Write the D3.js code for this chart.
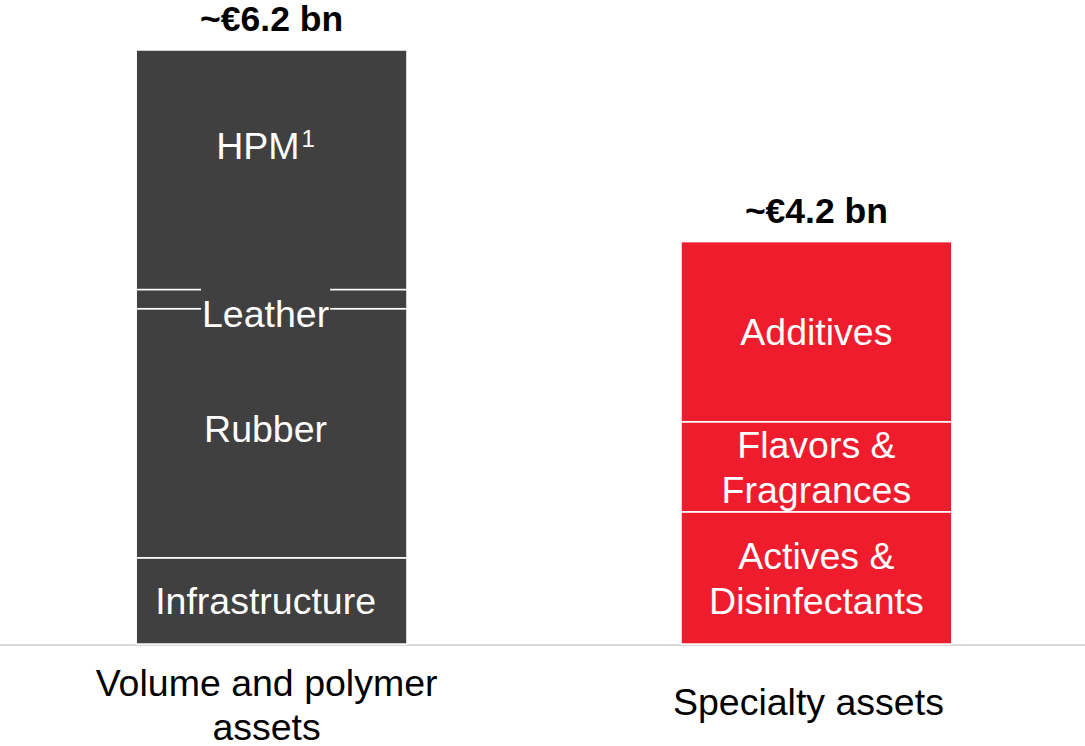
<!DOCTYPE html>
<html>
<head>
<meta charset="utf-8">
<script src="https://cdnjs.cloudflare.com/ajax/libs/d3/7.8.5/d3.min.js"></script>
<style>
  html, body { margin: 0; padding: 0; background: #fff; }
  svg text { font-family: "Liberation Sans", Arial, sans-serif; }
</style>
</head>
<body>
<div id="chart"></div>
<script>
// chart data
var categories = ["Volume and polymer\nassets", "Specialty assets"];
var totalLabels = ["~€6.2 bn", "~€4.2 bn"];
var totals = [6.2, 4.2];

// stacked from the bottom up
var volumeSegments = ["Infrastructure", "Rubber", "Leather", "HPM"];
var volumeValues = [0.9, 2.6, 0.2, 2.5];

var specialtySegments = ["Actives &\nDisinfectants", "Flavors &\nFragrances", "Additives"];
var specialtyValues = [1.38, 0.94, 1.88];

var barColors = ["#404040", "#ee1c2d"];


(function () {

	'use strict';

	var w = 1085,
		h = 746,
		baseY = 644;

	var svg = d3.select("#chart").append("svg").attr("width", w).attr("height", h);

	/* SCALES
	============================*/
	var x = d3.scaleBand()
		.domain(categories)
		.range([0, 1088])
		.paddingInner(0.503)
		.paddingOuter(0.25);

	var y = d3.scaleLinear()
		.domain([0, d3.max(totals)])
		.range([baseY, 50]);

	// label tweaks, the original deck doesn't center everything
	var labelNudge = { "HPM": -24, "Leather": 14, "Rubber": -5 };
	var labelShiftX = [-6, 0];
	var catShiftX = [-5, -8];

	// build the stack rows for each bar
	function stackRows(cat, names, values) {
		var acc = 0;
		return names.map(function (n, i) {
			var row = { cat: cat, name: n, y0: acc, y1: acc + values[i] };
			acc += values[i];
			return row;
		});
	}

	var bars = [
		{ cat: categories[0], color: barColors[0], rows: stackRows(categories[0], volumeSegments, volumeValues) },
		{ cat: categories[1], color: barColors[1], rows: stackRows(categories[1], specialtySegments, specialtyValues) }
	];

	// axis base line
	svg.append("line")
		.attr("x1", 0).attr("x2", w)
		.attr("y1", baseY + 1).attr("y2", baseY + 1)
		.style("stroke", "#d9d9d9")
		.style("stroke-width", 2);

	/* BARS
	============================*/
	bars.forEach(function (b, bi) {

		var g = svg.append("g");

		g.selectAll("rect")
			.data(b.rows)
			.enter()
			.append("rect")
			.attr("x", x(b.cat))
			.attr("width", x.bandwidth())
			.attr("y", function (d) { return y(d.y1); })
			.attr("height", function (d) { return y(d.y0) - y(d.y1); })
			.style("fill", b.color)
			.style("stroke", "#fff")
			.style("stroke-width", 1.5);

		var cx = x(b.cat) + x.bandwidth() / 2 + labelShiftX[bi];

		b.rows.forEach(function (d) {
			var lines = d.name.split("\n");
			var mid = (y(d.y0) + y(d.y1)) / 2 + (labelNudge[d.name] || 0);
			var lh = 45;

			var t = g.append("text")
				.attr("text-anchor", "middle")
				.style("fill", "#fff")
				.style("font-size", "37.5px");

			lines.forEach(function (ln, i) {
				t.append("tspan")
					.attr("x", cx)
					.attr("y", mid - (lines.length - 1) * lh / 2 + i * lh)
					.attr("dy", "0.36em")
					.text(ln);
			});

			// footnote mark on HPM
			if (d.name === "HPM") {
				t.append("tspan")
					.attr("dx", 2)
					.attr("dy", "-0.5em")
					.style("font-size", "24px")
					.text("1");
			}

			// leather is a thin slice, the label sits on a dark patch over the borders
			if (d.name === "Leather") {
				var bb = t.node().getBBox();
				g.insert("rect", function () { return t.node(); })
					.attr("x", bb.x - 1)
					.attr("y", y(d.y1) - 2)
					.attr("width", bb.width + 2)
					.attr("height", bb.y + bb.height - y(d.y1) + 2)
					.style("fill", b.color);
			}
		});

	});

	/* TOTALS + CATEGORY LABELS
	============================*/
	svg.selectAll(".total")
		.data(categories)
		.enter()
		.append("text")
		.attr("class", "total")
		.attr("text-anchor", "middle")
		.attr("x", function (d) { return x(d) + x.bandwidth() / 2; })
		.attr("y", function (d, i) { return y(totals[i]) - 19; })
		.style("font-size", "35.5px")
		.style("font-weight", "bold")
		.style("fill", "#000")
		.text(function (d, i) { return totalLabels[i]; });

	categories.forEach(function (c, ci) {
		var lines = c.split("\n");
		var t = svg.append("text")
			.attr("text-anchor", "middle")
			.style("font-size", "37.5px")
			.style("fill", "#000");
		lines.forEach(function (ln, i) {
			t.append("tspan")
				.attr("x", x(c) + x.bandwidth() / 2 + catShiftX[ci])
				.attr("y", 701 - (lines.length - 1) * 19 + i * 44)
				.attr("dy", "0.36em")
				.text(ln);
		});
	});

})();
</script>
</body>
</html>
